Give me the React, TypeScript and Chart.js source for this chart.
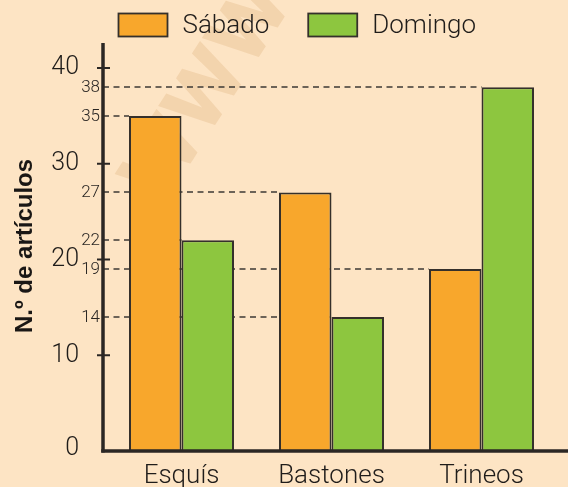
import React, { useEffect, useRef } from "react";
import { Chart, registerables } from "chart.js";

Chart.register(...registerables);

const categories = ["Esquís", "Bastones", "Trineos"];
const seriesNames = ["Sábado", "Domingo"];
const sabado = [35, 27, 19];
const domingo = [22, 14, 38];
const majorTicks = [0, 10, 20, 30, 40];
const yTitle = "N.º de artículos";

const BG = "#fde4c4";
const ORANGE = "#f8a72c";
const GREEN = "#8dc63f";
const INK = "#35302b";
const FONT = "Roboto, 'Liberation Sans', sans-serif";

const decorPlugin = {
  id: "decor",
  beforeDraw(chart: any) {
    const { ctx } = chart;
    ctx.save();
    ctx.fillStyle = BG;
    ctx.fillRect(0, 0, chart.width, chart.height);
    // faint watermark
    ctx.translate(205, 90);
    ctx.rotate(-1.0);
    ctx.fillStyle = "rgba(215,165,105,0.25)";
    ctx.font = `bold 110px ${FONT}`;
    ctx.textAlign = "center";
    ctx.textBaseline = "middle";
    ctx.fillText("www", 0, 0);
    ctx.restore();
  },
  beforeDatasetsDraw(chart: any) {
    const { ctx, chartArea } = chart;
    const y = chart.scales.y;
    const axisX = chartArea.left - 3.5;
    ctx.save();
    ctx.strokeStyle = "#3d3834";
    ctx.lineWidth = 1.5;
    ctx.setLineDash([6, 4.5]);
    ctx.font = `300 17px ${FONT}`;
    ctx.fillStyle = "#2a2623";
    ctx.textAlign = "right";
    ctx.textBaseline = "middle";
    chart.data.datasets.forEach((ds: any, di: number) => {
      const meta = chart.getDatasetMeta(di);
      ds.data.forEach((v: number, i: number) => {
        const bar = meta.data[i];
        const py = Math.round(y.getPixelForValue(v));
        const left = bar.x - bar.width / 2;
        ctx.beginPath();
        ctx.moveTo(axisX, py);
        ctx.lineTo(left, py);
        ctx.stroke();
        ctx.fillText(String(v), axisX - 3, py + 1);
      });
    });
    ctx.restore();
  },
  afterDatasetsDraw(chart: any) {
    const { ctx, chartArea } = chart;
    const y = chart.scales.y;
    const x = chart.scales.x;
    const axisX = chartArea.left - 3.5;
    const bottom = y.getPixelForValue(0);
    ctx.save();
    ctx.strokeStyle = "#2b2724";
    ctx.lineWidth = 3.5;
    ctx.lineCap = "butt";
    // y axis
    ctx.beginPath();
    ctx.moveTo(axisX, y.getPixelForValue(40) - 25);
    ctx.lineTo(axisX, bottom + 1.5);
    ctx.stroke();
    // x axis
    ctx.beginPath();
    ctx.moveTo(axisX - 1.75, bottom);
    ctx.lineTo(chart.width, bottom);
    ctx.stroke();
    // major ticks + labels
    ctx.lineWidth = 2;
    ctx.font = `300 25px ${FONT}`;
    ctx.fillStyle = "#1f1c1a";
    ctx.textAlign = "right";
    ctx.textBaseline = "middle";
    majorTicks.forEach((t) => {
      const py = y.getPixelForValue(t);
      if (t > 0) {
        ctx.beginPath();
        ctx.moveTo(axisX - 6, py);
        ctx.lineTo(axisX + 7, py);
        ctx.stroke();
      }
      ctx.fillText(String(t), axisX - 24, t === 0 ? py - 2 : py);
    });
    // category labels
    ctx.textAlign = "center";
    ctx.textBaseline = "alphabetic";
    ctx.font = `300 26px ${FONT}`;
    categories.forEach((c, i) => {
      ctx.fillText(c, x.getPixelForValue(i), bottom + 32);
    });
    // legend
    ctx.font = `300 26px ${FONT}`;
    ctx.textAlign = "left";
    ctx.textBaseline = "middle";
    const colors = [ORANGE, GREEN];
    let lx = 118.5;
    const ly = 13.5;
    seriesNames.forEach((name, i) => {
      ctx.fillStyle = colors[i];
      ctx.fillRect(lx, ly, 49, 23);
      ctx.lineWidth = 1.8;
      ctx.strokeStyle = INK;
      ctx.strokeRect(lx, ly, 49, 23);
      ctx.fillStyle = "#1f1c1a";
      ctx.fillText(name, lx + 64, ly + 12.5);
      lx += 64 + ctx.measureText(name).width + 39;
    });
    // y title
    ctx.translate(25, 246);
    ctx.rotate(-Math.PI / 2);
    ctx.font = `bold 24px 'Liberation Sans', Arial, sans-serif`;
    ctx.textAlign = "center";
    ctx.textBaseline = "middle";
    ctx.fillStyle = "#1a1715";
    ctx.fillText(yTitle, 0, 0);
    ctx.restore();
  },
};

export default function App() {
  const ref = useRef<HTMLCanvasElement | null>(null);
  useEffect(() => {
    if (!ref.current) return;
    const chart = new Chart(ref.current, {
      type: "bar",
      data: {
        labels: categories,
        datasets: [
          {
            label: seriesNames[0],
            data: sabado,
            backgroundColor: ORANGE,
            borderColor: INK,
            borderWidth: 2,
            categoryPercentage: 0.7,
            barPercentage: 1.0,
          },
          {
            label: seriesNames[1],
            data: domingo,
            backgroundColor: GREEN,
            borderColor: INK,
            borderWidth: 2,
            categoryPercentage: 0.7,
            barPercentage: 1.0,
          },
        ],
      },
      options: {
        responsive: false,
        animation: false,
        devicePixelRatio: 1,
        layout: { padding: { left: 106.5, right: 11.5, top: 68, bottom: 36 } },
        scales: {
          x: { display: false },
          y: { display: false, min: 0, max: 40 },
        },
        plugins: { legend: { display: false }, tooltip: { enabled: false } },
      },
      plugins: [decorPlugin],
    });
    return () => chart.destroy();
  }, []);
  return (
    <div style={{ position: "fixed", left: 0, top: 0, width: 568, height: 487, background: BG }}>
      <canvas ref={ref} width={568} height={487} style={{ display: "block" }} />
    </div>
  );
}
